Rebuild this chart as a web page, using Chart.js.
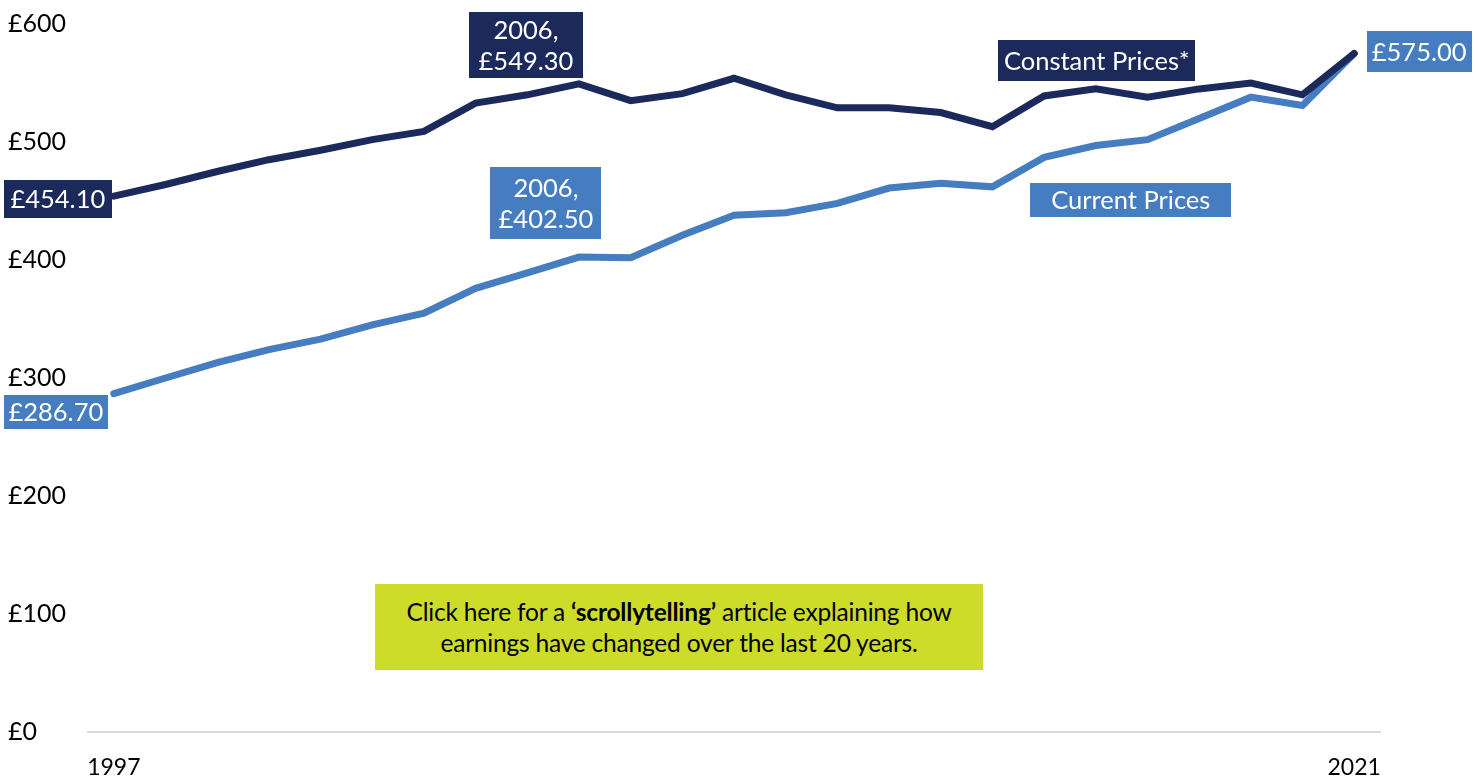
<!DOCTYPE html>
<html>
<head>
<meta charset="utf-8">
<title>Weekly earnings 1997-2021</title>
<script src="https://cdn.jsdelivr.net/npm/chart.js@4/dist/chart.umd.min.js"></script>
<style>
  html, body { margin: 0; padding: 0; background: #fff; }
  #wrap { position: relative; width: 1478px; height: 779px; }
  #promo {
    position: absolute; left: 375px; top: 584px; width: 608px; height: 86px;
    background: #cddc29; color: #000; font: 24.5px Lato, sans-serif; letter-spacing: -0.2px;
    display: flex; align-items: center; justify-content: center; text-align: center;
    line-height: 31px; cursor: pointer;
  }
</style>
</head>
<body>
<div id="wrap">
  <canvas id="chart" width="1478" height="779"></canvas>
  <div id="promo"><div>Click here for a <b>‘scrollytelling’</b> article explaining how<br>earnings have changed over the last 20 years.</div></div>
</div>
<script>
const years = ['1997','1998','1999','2000','2001','2002','2003','2004','2005','2006','2007','2008','2009',
  '2010','2011','2012','2013','2014','2015','2016','2017','2018','2019','2020','2021'];
const constantPrices = [454.1, 464, 475, 485, 493, 502, 509, 533, 540, 549.3, 535, 541, 554,
  540, 529, 529, 525, 513, 539, 545, 538, 545, 550, 540, 575];
const currentPrices = [286.7, 300, 313, 324, 333, 345, 355, 376, 389, 402.5, 402, 421, 438,
  440, 448, 461, 465, 462, 487, 497, 502, 520, 538, 531, 575];
const yTicks = [0, 100, 200, 300, 400, 500, 600];

const NAVY = '#1c2a5b', BLUE = '#467cc0';
const FONT = 'Lato, sans-serif';

const gbp = v => '£' + v.toFixed(2);

// callout boxes, anchored on a data point (ds 0 = constant, 1 = current)
const callouts = [
  {ds: 0, i: 0, lines: () => [gbp(constantPrices[0])], dx: -56, dy: 3, w: 108, h: 38},
  {ds: 0, i: 9, lines: () => [years[9] + ',', gbp(constantPrices[9])], dx: -53, dy: -39, w: 114, h: 66},
  {ds: 1, i: 9, lines: () => [years[9] + ',', gbp(currentPrices[9])], dx: -33, dy: -54, w: 111, h: 72},
  {ds: 1, i: 0, lines: () => [gbp(currentPrices[0])], dx: -58, dy: 18, w: 104, h: 34},
  {ds: 1, i: 24, lines: () => [gbp(currentPrices[24])], dx: 65, dy: -2, w: 105, h: 41},
  {ds: 0, i: 19, lines: () => ['Constant Prices*'], dx: 1, dy: -28, w: 197, h: 41},
  {ds: 1, i: 19, lines: () => ['Current Prices'], dx: 35, dy: 54, w: 201, h: 34}
];

const calloutPlugin = {
  id: 'callouts',
  afterDatasetsDraw(chart) {
    const ctx = chart.ctx;
    ctx.save();
    ctx.font = '25.5px ' + FONT;
    ctx.textAlign = 'center';
    ctx.textBaseline = 'middle';
    callouts.forEach(c => {
      const pt = chart.getDatasetMeta(c.ds).data[c.i];
      const cx = pt.x + c.dx, cy = pt.y + c.dy;
      ctx.fillStyle = c.ds === 0 ? NAVY : BLUE;
      ctx.fillRect(Math.round(cx - c.w / 2), Math.round(cy - c.h / 2), c.w, c.h);
      ctx.fillStyle = '#fff';
      const lines = c.lines();
      const lh = 31;
      lines.forEach((t, k) => {
        ctx.fillText(t, cx, cy + (k - (lines.length - 1) / 2) * lh + 1);
      });
    });
    ctx.restore();
  }
};

new Chart(document.getElementById('chart'), {
  type: 'line',
  data: {
    labels: years,
    datasets: [
      {label: 'Constant Prices*', data: constantPrices, borderColor: NAVY, borderWidth: 7,
       pointRadius: 0, borderCapStyle: 'round', tension: 0},
      {label: 'Current Prices', data: currentPrices, borderColor: BLUE, borderWidth: 7,
       pointRadius: 0, borderCapStyle: 'round', tension: 0}
    ]
  },
  options: {
    responsive: false,
    animation: false,
    layout: {padding: {left: 8, right: 98, top: 24, bottom: 0}},
    plugins: {legend: {display: false}, tooltip: {enabled: false}},
    scales: {
      x: {
        offset: true,
        grid: {display: false, drawTicks: false},
        border: {display: true, color: '#d9d9d9', width: 2},
        ticks: {
          autoSkip: false, maxRotation: 0, padding: 22, color: '#000',
          font: {family: FONT, size: 23},
          callback: (v, i) => (i === 0 || i === years.length - 1) ? years[i] : ''
        },
        afterFit: s => { s.height = 47; }
      },
      y: {
        min: yTicks[0], max: yTicks[yTicks.length - 1],
        grid: {display: false, drawTicks: false},
        border: {display: false},
        afterBuildTicks: s => { s.ticks = yTicks.map(v => ({value: v})); },
        ticks: {
          crossAlign: 'far', color: '#000',
          font: {family: FONT, size: 25},
          callback: v => '£' + v
        },
        afterFit: s => { s.width = 80; }
      }
    }
  },
  plugins: [calloutPlugin]
});
</script>
</body>
</html>
